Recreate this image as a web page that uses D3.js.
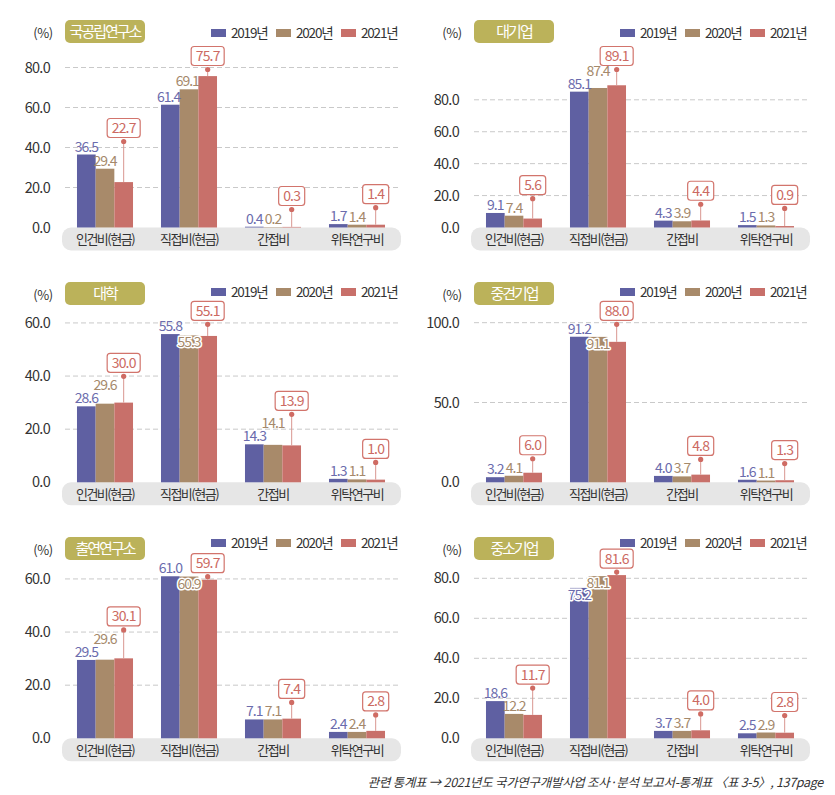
<!DOCTYPE html>
<html><head><meta charset="utf-8">
<script src="https://cdn.jsdelivr.net/npm/d3@7"></script>
<style>
body{margin:0;background:#fff}
svg{display:block}
text{font-family:"Noto Sans CJK KR","Noto Sans",sans-serif}
</style>
</head><body>
<svg id="chart" width="835" height="795"></svg>
<script>
// ---------- data ----------
const categories = ["인건비(현금)", "직접비(현금)", "간접비", "위탁연구비"];
const years = ["2019년", "2020년", "2021년"];
const panelTitles = ["국공립연구소", "대기업", "대학", "중견기업", "출연연구소", "중소기업"];

const publicLab   = [[36.5, 61.4, 0.4, 1.7], [29.4, 69.1, 0.2, 1.4], [22.7, 75.7, 0.3, 1.4]];
const largeCorp   = [[9.1, 85.1, 4.3, 1.5],  [7.4, 87.4, 3.9, 1.3],  [5.6, 89.1, 4.4, 0.9]];
const university  = [[28.6, 55.8, 14.3, 1.3], [29.6, 55.3, 14.1, 1.1], [30.0, 55.1, 13.9, 1.0]];
const midCorp     = [[3.2, 91.2, 4.0, 1.6],  [4.1, 91.1, 3.7, 1.1],  [6.0, 88.0, 4.8, 1.3]];
const govInst     = [[29.5, 61.0, 7.1, 2.4], [29.6, 60.9, 7.1, 2.4], [30.1, 59.7, 7.4, 2.8]];
const smeCorp     = [[18.6, 75.2, 3.7, 2.5], [12.2, 81.1, 3.7, 2.9], [11.7, 81.6, 4.0, 2.8]];
const panelData = [publicLab, largeCorp, university, midCorp, govInst, smeCorp];

const panelTicks = [[0, 20, 40, 60, 80], [0, 20, 40, 60, 80], [0, 20, 40, 60],
                    [0, 50, 100], [0, 20, 40, 60], [0, 20, 40, 60, 80]];
const panelYMax = [85, 106.5, 64, 106.5, 64, 85];

const footnote = "관련 통계표 → 2021년도 국가연구개발사업 조사·분석 보고서-통계표 〈표 3-5〉, 137page";

// ---------- style / layout ----------
const seriesColors = ["#5f60a2", "#a88a6a", "#c8706a"];
const labelColors = ["#6b6cad", "#a5896b", "#cc6a62"];
const titleColor = "#bbb25a";
const rowZero = [227.5, 482.3, 738.3];
const rowHeader = [31.5, 293.5, 548.5];
const rowLegend = [33, 292, 543];
const colLeft = [63, 472];
const colWidth = 336;
const plotH = 170;
const valueFont = 14;

const svg = d3.select("#chart");
const fmt = d3.format(".1f");

panelData.forEach((data, p) => {
  const row = Math.floor(p / 2), col = p % 2;
  const L = colLeft[col], R = L + colWidth, Z = rowZero[row], H = rowHeader[row];
  const g = svg.append("g");

  const x0 = d3.scaleBand().domain(categories).range([L, R]).paddingInner(0.333).paddingOuter(0.1665);
  const x1 = d3.scaleBand().domain(years).range([0, x0.bandwidth()]);
  const y = d3.scaleLinear().domain([0, panelYMax[p]]).range([Z, Z - plotH]);
  const bw = x1.bandwidth();

  // gridlines
  g.append("g").selectAll("line").data(panelTicks[p].filter(t => t > 0)).join("line")
    .attr("x1", L + 2).attr("x2", R - 1)
    .attr("y1", d => y(d)).attr("y2", d => y(d))
    .attr("stroke", "#c9c9c9").attr("stroke-width", 1).attr("stroke-dasharray", "5,3");

  // y axis
  const ya = g.append("g").attr("transform", `translate(${L - 13},0)`)
    .call(d3.axisLeft(y).tickValues(panelTicks[p]).tickFormat(fmt).tickSize(0).tickPadding(0));
  ya.select(".domain").remove();
  ya.selectAll("text").attr("font-size", 14.5).attr("fill", "#333").attr("letter-spacing", "-0.7px")
    .style("font-family", '"Noto Sans CJK KR", sans-serif');

  // category band
  g.append("rect").attr("x", L - 1).attr("y", Z).attr("width", colWidth + 3).attr("height", 23)
    .attr("rx", 9).attr("fill", "#e6e6e6");
  const xa = g.append("g").attr("transform", `translate(0,${Z})`)
    .call(d3.axisBottom(x0).tickSize(0).tickPadding(7));
  xa.select(".domain").remove();
  xa.selectAll("text").attr("font-size", 13).attr("fill", "#333").attr("letter-spacing", "-1.5px")
    .style("font-family", '"Noto Sans CJK KR", sans-serif');

  // bars
  categories.forEach((c, ci) => {
    g.append("g").selectAll("rect").data(years).join("rect")
      .attr("x", (yr) => x0(c) + x1(yr))
      .attr("y", (yr, s) => y(data[s][ci]))
      .attr("width", bw)
      .attr("height", (yr, s) => Z - y(data[s][ci]))
      .attr("fill", (yr, s) => seriesColors[s]);
  });

  // header: (%)
  g.append("text").attr("x", L - 20).attr("y", H + 1.5).attr("dy", "0.35em")
    .attr("text-anchor", "middle").attr("font-size", 13).attr("fill", "#333")
    .attr("letter-spacing", "-0.5px").text("(%)");
  // title box
  g.append("rect").attr("x", L + 2).attr("y", H - 11.5).attr("width", 80).attr("height", 23)
    .attr("rx", 5).attr("fill", titleColor);
  g.append("text").attr("x", L + 42).attr("y", H).attr("dy", "0.36em").attr("text-anchor", "middle")
    .attr("font-size", 15).attr("fill", "#fff").attr("letter-spacing", "-2px").text(panelTitles[p]);
  // legend
  const LY = rowLegend[row];
  years.forEach((yr, i) => {
    const lx = R - 188 + i * 65;
    g.append("rect").attr("x", lx).attr("y", LY - 4).attr("width", 15).attr("height", 8).attr("fill", seriesColors[i]);
    g.append("text").attr("x", lx + 20).attr("y", LY).attr("dy", "0.35em").attr("font-size", 13.5)
      .attr("fill", "#333").attr("letter-spacing", "-1.2px").text(yr);
  });

  // value labels
  const lg = g.append("g");
  categories.forEach((c, ci) => {
    const vals = data.map(s => s[ci]);
    const bx = s => x0(c) + x1(years[s]);
    const labels = [];
    [0, 1].forEach(s => {
      const t = lg.append("text").text(fmt(vals[s])).attr("font-size", valueFont)
        .attr("letter-spacing", "-1px").attr("fill", labelColors[s]).attr("text-anchor", "middle");
      const w = t.node().getComputedTextLength();
      let cx = bx(s) + bw / 2, base = y(vals[s]) - 3, inside = false;
      const nx = bx(s + 1), ntop = y(vals[s + 1]);
      if (cx + w / 2 > nx + 1 && base - ntop > 3) {
        if (y(vals[s]) - ntop > 12) cx = nx - w / 2 + 0.5; else inside = true;
      }
      if (s === 1 && !inside && !labels[0].inside) {
        const l0 = labels[0];
        if (cx - w / 2 < l0.cx + l0.w / 2 - 1 && base - 12 < l0.base && base > l0.base - 12) {
          base = l0.base - 13;
        }
      }
      labels.push({ t, cx, base, w, inside, s });
    });

    // 2021 callout
    const rv = vals[2], rcx = bx(2) + bw / 2;
    const ct = lg.append("text").text(fmt(rv)).attr("font-size", valueFont).attr("letter-spacing", "-0.8px")
      .attr("fill", labelColors[2]).attr("text-anchor", "middle");
    const cw = ct.node().getComputedTextLength();
    const boxW = cw + 9, bx0 = rcx - boxW / 2, bx1 = rcx + boxW / 2;
    let cand = y(d3.max(vals)) - 13;
    labels.forEach(l => {
      if (!l.inside && l.cx + l.w / 2 > bx0 && l.cx - l.w / 2 < bx1) cand = Math.min(cand, l.base - 14);
    });
    let dot = Math.max(cand, Z - 158);
    dot = Math.min(dot, y(rv) - 3, Z - 18);
    const boxBottom = dot - 4, boxTop = boxBottom - 19;
    labels.forEach(l => {
      if (!l.inside && l.cx + l.w / 2 > bx0 + 1 && l.cx - l.w / 2 < bx1 &&
          l.base - 11 < boxBottom - 1 && l.base > boxTop) l.inside = true;
    });

    g.insert("line", () => lg.node()).attr("x1", rcx).attr("x2", rcx).attr("y1", y(rv)).attr("y2", dot)
      .attr("stroke", "#d99690").attr("stroke-width", 1);
    g.insert("circle", () => lg.node()).attr("cx", rcx).attr("cy", dot).attr("r", 2.6).attr("fill", "#cf6b63");
    g.insert("rect", () => lg.node()).attr("x", bx0).attr("y", boxTop).attr("width", boxW).attr("height", 19)
      .attr("rx", 3).attr("fill", "#fff").attr("stroke", "#d2746c").attr("stroke-width", 1.2);
    ct.attr("x", rcx).attr("y", boxBottom - 4.5);

    labels.forEach(l => {
      if (l.inside) {
        l.t.attr("x", bx(l.s) + bw / 2).attr("y", y(vals[l.s]) + 12)
          .attr("stroke", "#fff").attr("stroke-width", 3).attr("paint-order", "stroke")
          .attr("stroke-linejoin", "round");
      } else {
        l.t.attr("x", l.cx).attr("y", l.base);
      }
    });
  });
});

svg.append("text").attr("x", 823).attr("y", 787).attr("text-anchor", "end")
  .attr("font-size", 12.5).attr("font-style", "italic").attr("fill", "#333")
  .attr("letter-spacing", "-0.3px").text(footnote);
</script>
</body></html>
